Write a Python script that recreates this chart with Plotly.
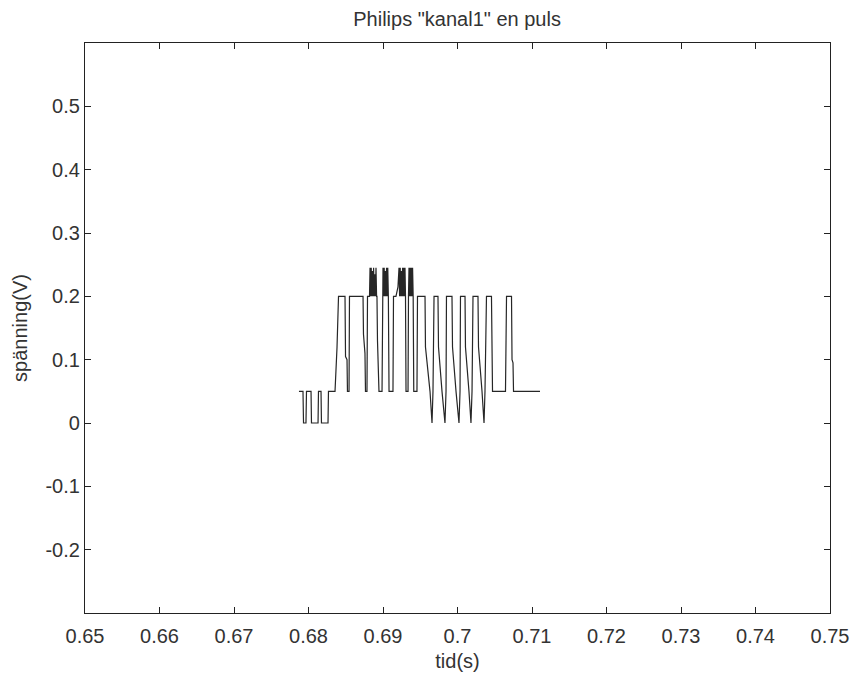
import plotly.graph_objects as go

# Oscilloscope trace (time in s, voltage in V)
time_s = [
    0.67872, 0.67926, 0.67933, 0.67966, 0.67973, 0.68034, 0.68040, 0.68128,
    0.68134, 0.68168, 0.68174, 0.68262, 0.68268, 0.68356, 0.68383, 0.68403,
    0.68490, 0.68497, 0.68517, 0.68523, 0.68544, 0.68550, 0.68732, 0.68738,
    0.68758, 0.68765, 0.68785, 0.68792, 0.68819,
    0.68826, 0.68834, 0.68842, 0.68850, 0.68858, 0.68866, 0.68874, 0.68882,
    0.68890, 0.68898, 0.68906, 0.68914,
    0.68919, 0.68926, 0.68940, 0.68946, 0.68987, 0.68993,
    0.69000, 0.69008, 0.69016, 0.69024, 0.69032, 0.69040, 0.69048, 0.69056,
    0.69064, 0.69072,
    0.69081, 0.69134, 0.69141, 0.69174, 0.69201,
    0.69215, 0.69223, 0.69231, 0.69239, 0.69247, 0.69255, 0.69263, 0.69271,
    0.69279, 0.69287, 0.69295, 0.69302,
    0.69309, 0.69336, 0.69342,
    0.69349, 0.69357, 0.69365, 0.69373, 0.69381, 0.69389, 0.69397, 0.69405,
    0.69413, 0.69456, 0.69463, 0.69564,
    0.69570, 0.69631, 0.69658, 0.69671, 0.69685, 0.69738,
    0.69745, 0.69792, 0.69832, 0.69846, 0.69852, 0.69926,
    0.69933, 0.69980, 0.70020, 0.70034, 0.70040, 0.70101,
    0.70107, 0.70154, 0.70181, 0.70195, 0.70208, 0.70275,
    0.70282, 0.70329, 0.70356, 0.70369, 0.70389, 0.70456,
    0.70470, 0.70644, 0.70658, 0.70725, 0.70732, 0.70745, 0.70752, 0.71107,
]
voltage_v = [
    0.05, 0.05, 0.0, 0.0, 0.05, 0.05, 0.0, 0.0,
    0.05, 0.05, 0.0, 0.0, 0.05, 0.05, 0.12, 0.2,
    0.2, 0.105, 0.1, 0.05, 0.05, 0.2, 0.2, 0.14,
    0.11, 0.05, 0.05, 0.2, 0.2,
    0.245, 0.2, 0.245, 0.2, 0.24, 0.2, 0.245, 0.2,
    0.235, 0.2, 0.245, 0.2,
    0.2, 0.13, 0.09, 0.05, 0.05, 0.2,
    0.245, 0.2, 0.245, 0.2, 0.24, 0.2, 0.245, 0.2,
    0.245, 0.2,
    0.05, 0.05, 0.2, 0.2, 0.215,
    0.245, 0.2, 0.245, 0.2, 0.24, 0.2, 0.245, 0.2,
    0.245, 0.2, 0.245, 0.2,
    0.05, 0.05, 0.2,
    0.245, 0.2, 0.245, 0.2, 0.245, 0.2, 0.245, 0.2,
    0.05, 0.05, 0.2, 0.2,
    0.12, 0.05, 0.0, 0.05, 0.2, 0.2,
    0.12, 0.05, 0.0, 0.05, 0.2, 0.2,
    0.12, 0.05, 0.0, 0.05, 0.2, 0.2,
    0.12, 0.05, 0.0, 0.05, 0.2, 0.2,
    0.12, 0.05, 0.0, 0.05, 0.2, 0.2,
    0.05, 0.05, 0.2, 0.2, 0.1, 0.095, 0.05, 0.05,
]

x_ticks = [0.65, 0.66, 0.67, 0.68, 0.69, 0.70, 0.71, 0.72, 0.73, 0.74, 0.75]
x_tick_labels = ["0.65", "0.66", "0.67", "0.68", "0.69", "0.7", "0.71", "0.72", "0.73", "0.74", "0.75"]
y_ticks = [-0.2, -0.1, 0.0, 0.1, 0.2, 0.3, 0.4, 0.5]
y_tick_labels = ["-0.2", "-0.1", "0", "0.1", "0.2", "0.3", "0.4", "0.5"]

title_text = 'Philips "kanal1" en puls'
x_title = "tid(s)"
y_title = "spänning(V)"

FONT = "Liberation Sans, Arial, sans-serif"
TXT = "#333333"

fig = go.Figure()
fig.add_trace(go.Scatter(
    x=time_s, y=voltage_v, mode="lines",
    line=dict(color="#262626", width=1.2),
    hoverinfo="skip", showlegend=False,
))

axis_common = dict(
    showgrid=False, zeroline=False, showline=True, linecolor="#222222",
    linewidth=1.2, mirror="ticks", ticks="inside", ticklen=6,
    tickcolor="#222222", tickwidth=1.2,
    tickfont=dict(family=FONT, size=20, color=TXT),
)

fig.update_layout(
    width=867, height=674,
    paper_bgcolor="white", plot_bgcolor="white",
    margin=dict(l=77, r=45, t=35, b=69),
    title=dict(text=title_text, x=0.518, xanchor="center", y=0.994, yanchor="top",
               yref="container", font=dict(family=FONT, size=20, color=TXT)),
    xaxis=dict(range=[0.65, 0.75], tickvals=x_ticks, ticktext=x_tick_labels,
               ticklabelstandoff=5,
               title=dict(text=x_title, font=dict(family=FONT, size=20, color=TXT), standoff=7),
               **axis_common),
    yaxis=dict(range=[-0.3, 0.6], tickvals=y_ticks, ticktext=y_tick_labels,
               title=dict(text=y_title, font=dict(family=FONT, size=20, color=TXT), standoff=12),
               **axis_common),
)

fig.write_html("out.html")
